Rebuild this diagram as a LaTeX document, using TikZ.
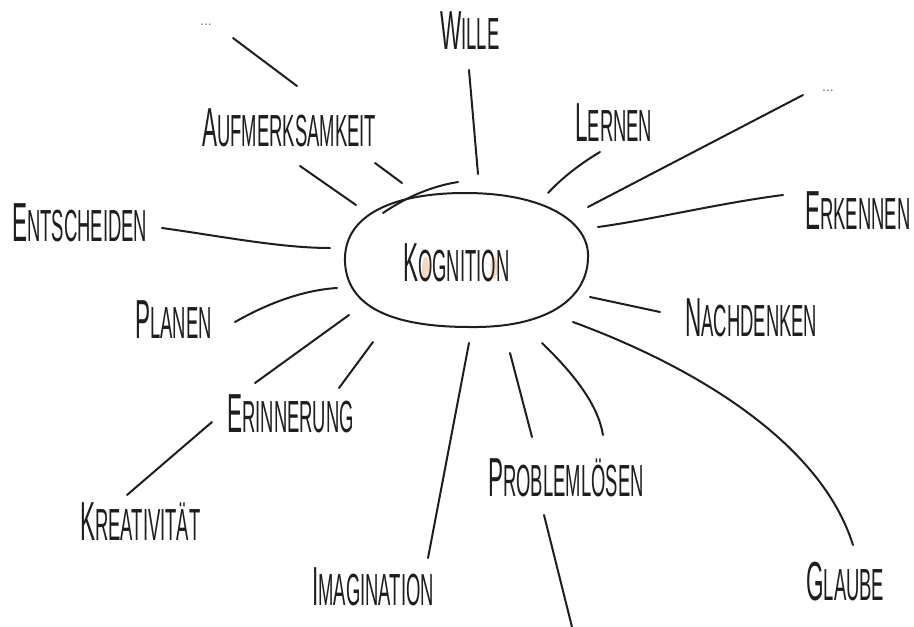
\documentclass[tikz,border=0pt]{standalone}
\usepackage{fontspec}
\usepackage{graphicx}
\setmainfont{Liberation Sans}
\definecolor{ink}{HTML}{1E1E1E}
\definecolor{peach}{HTML}{F6D8BE}
\definecolor{dotgrey}{HTML}{777777}
\newcommand\hwl[2]{\scalebox{0.41}[1]{\fontsize{55}{55}\selectfont #1\fontsize{45}{45}\selectfont #2}}
\tikzset{
  lbl/.style={inner sep=0pt, anchor=base west, text=ink},
  dots/.style={inner sep=0pt, anchor=base west, text=dotgrey, font=\fontsize{14}{14}\selectfont},
  conn/.style={draw=ink, line width=2pt, line cap=round},
  blob/.style={draw=ink, line width=2pt}
}
\begin{document}
\begin{tikzpicture}[x=1pt,y=-1pt]
\useasboundingbox (0,0) rectangle (914,627);
\fill[white] (0,0) rectangle (914,627);

% centre
\coordinate (core) at (466,260);
\draw[blob] (345,262) .. controls (343,214) and (395,193) .. (465,193)
  .. controls (545,193) and (590,222) .. (588,258)
  .. controls (587,300) and (545,328) .. (470,327)
  .. controls (390,327) and (347,306) .. (345,262) -- cycle;
\fill[peach] (425.5,268) ellipse (3.5pt and 11pt);
\fill[peach] (494,268) ellipse (3.5pt and 11pt);
\node[lbl] (kog) at (403,281) {\hwl{K}{OGNITION}};

% labels
\node[dots] (dl) at (200,25) {...};
\node[dots] (dr) at (822,91) {...};
\node[lbl] (wille) at (440,49) {\hwl{W}{ILLE}};
\node[lbl] (aufm) at (202,146) {\hwl{A}{UFMERKSAMKEIT}};
\node[lbl] (lern) at (575,141) {\hwl{L}{ERNEN}};
\node[lbl] (erk) at (805,229) {\hwl{E}{RKENNEN}};
\node[lbl] (nach) at (685,336) {\hwl{N}{ACHDENKEN}};
\node[lbl] (ent) at (12,241) {\hwl{E}{NTSCHEIDEN}};
\node[lbl] (plan) at (135,338) {\hwl{P}{LANEN}};
\node[lbl] (erin) at (227,432) {\hwl{E}{RINNERUNG}};
\node[lbl] (krea) at (80,540) {\hwl{K}{REATIVITÄT}};
\node[lbl] (imag) at (312,605) {\hwl{I}{MAGINATION}};
\node[lbl] (prob) at (488,496) {\hwl{P}{ROBLEMLÖSEN}};
\node[lbl] (glau) at (806,600) {\hwl{G}{LAUBE}};

% connector end points
\coordinate (c1a) at (233,38);  \coordinate (c1b) at (297,86);
\coordinate (c2a) at (300,166); \coordinate (c2b) at (356,205);
\coordinate (c3a) at (375,163); \coordinate (c3b) at (402,183);
\coordinate (c4a) at (469,70);  \coordinate (c4b) at (478,174);
\coordinate (c5a) at (600,152); \coordinate (c5b) at (548,193);
\coordinate (c6a) at (803,95);  \coordinate (c6b) at (588,207);
\coordinate (c7a) at (783,195); \coordinate (c7b) at (598,227);
\coordinate (c8a) at (590,297); \coordinate (c8b) at (660,312);
\coordinate (c9a) at (573,322); \coordinate (c9b) at (853,545);
\coordinate (c10a) at (542,343); \coordinate (c10b) at (603,435);
\coordinate (c11a) at (510,353); \coordinate (c11b) at (532,437);
\coordinate (c12a) at (544,515); \coordinate (c12b) at (572,627);
\coordinate (c13a) at (469,343); \coordinate (c13b) at (428,558);
\coordinate (c14a) at (373,342); \coordinate (c14b) at (339,388);
\coordinate (c15a) at (349,315); \coordinate (c15b) at (255,383);
\coordinate (c16a) at (212,422); \coordinate (c16b) at (127,495);
\coordinate (c17a) at (235,322); \coordinate (c17b) at (337,288);
\coordinate (c18a) at (162,228); \coordinate (c18b) at (330,248);
\coordinate (arcA) at (383,213); \coordinate (arcB) at (458,182);

% connectors
\draw[conn] (c1a) -- (c1b);
\draw[conn] (c2a) -- (c2b);
\draw[conn] (c3a) -- (c3b);
\draw[conn] (c4a) -- (c4b);
\draw[conn] (c5a) .. controls (578,165) and (560,180) .. (c5b);
\draw[conn] (c6a) -- (c6b);
\draw[conn] (c7a) .. controls (720,203) and (650,220) .. (c7b);
\draw[conn] (c8a) -- (c8b);
\draw[conn] (c9a) .. controls (690,365) and (820,440) .. (c9b);
\draw[conn] (c10a) .. controls (575,375) and (598,405) .. (c10b);
\draw[conn] (c11a) -- (c11b);
\draw[conn] (c12a) -- (c12b);
\draw[conn] (c13a) -- (c13b);
\draw[conn] (c14a) -- (c14b);
\draw[conn] (c15a) -- (c15b);
\draw[conn] (c16a) -- (c16b);
\draw[conn] (c17a) .. controls (270,302) and (305,290) .. (c17b);
\draw[conn] (c18a) .. controls (220,236) and (280,248) .. (c18b);
\draw[conn] (arcA) .. controls (408,196) and (433,186) .. (arcB);
\end{tikzpicture}
\end{document}
